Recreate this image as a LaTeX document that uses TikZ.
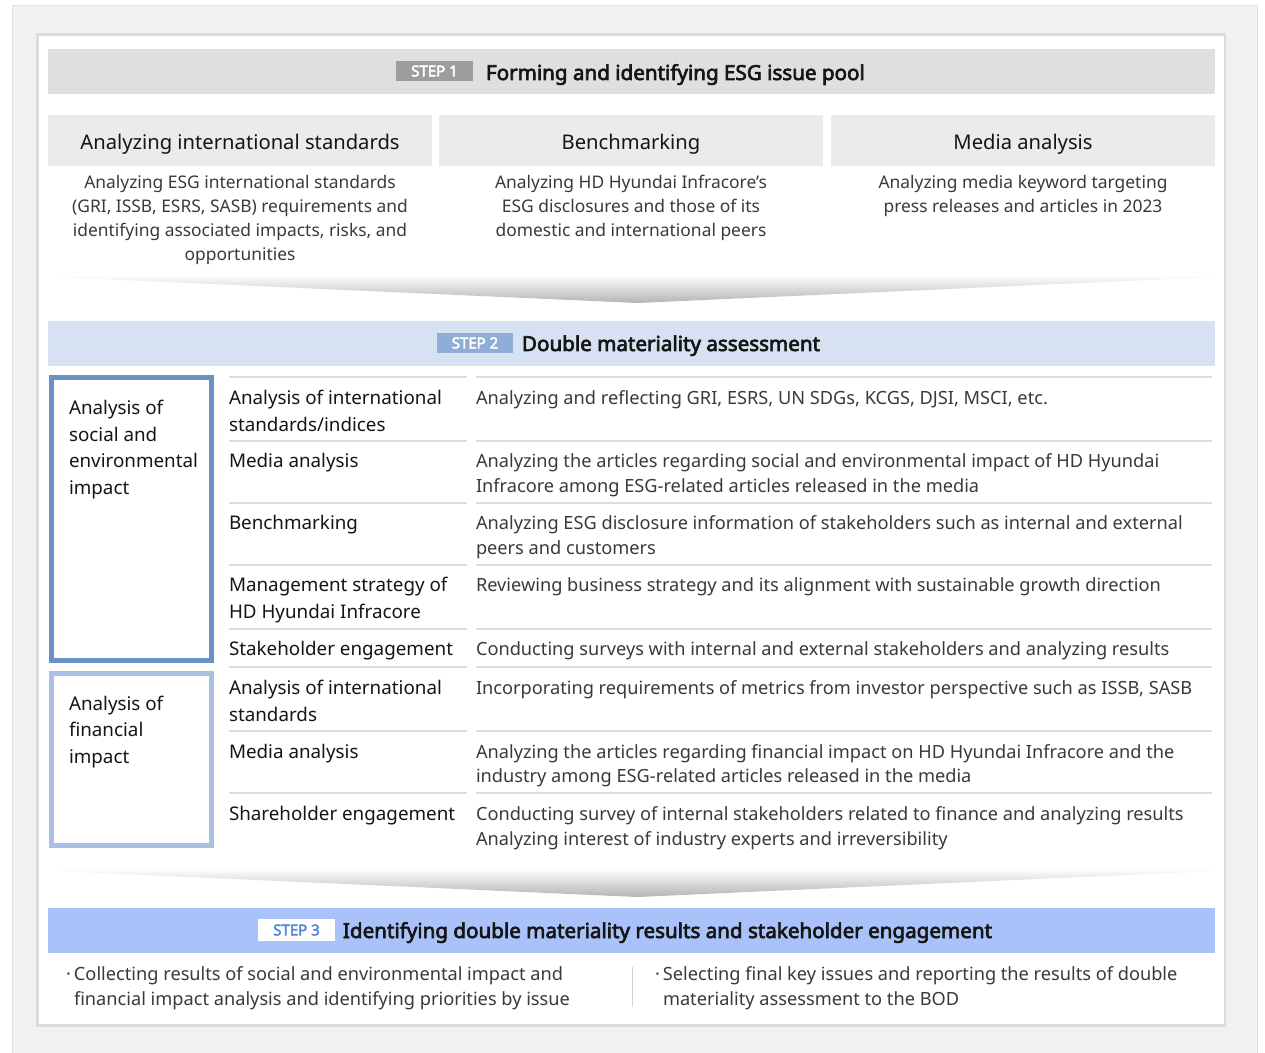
\documentclass[tikz,border=0pt]{standalone}
\usepackage{fontspec}
\setmainfont{Noto Sans}[AutoFakeBold=3.2]
\definecolor{outerbg}{HTML}{F0F2F1}
\definecolor{outerline}{HTML}{E0E2E1}
\definecolor{panelline}{HTML}{DADBDA}
\definecolor{bar1}{HTML}{DEDFDE}
\definecolor{badge1}{HTML}{9D9D9D}
\definecolor{colhead}{HTML}{EBEBEB}
\definecolor{bar2}{HTML}{D6E2F1}
\definecolor{badge2}{HTML}{8FADD7}
\definecolor{bar3}{HTML}{A9C3FA}
\definecolor{badge3txt}{HTML}{5A87D6}
\definecolor{boxA}{HTML}{6B91C9}
\definecolor{boxB}{HTML}{A9BFE4}
\definecolor{rulegray}{HTML}{DDDDDD}
\definecolor{sepgray}{HTML}{D2D2D2}
\definecolor{chevgray}{HTML}{B4B4B4}
\definecolor{txtdark}{HTML}{151515}
\definecolor{txtmid}{HTML}{3A3A3A}
\newcommand\lcell[1]{\begin{tabular}[t]{@{}l@{}}#1\end{tabular}}
\newcommand\ccell[1]{\begin{tabular}[t]{@{}c@{}}#1\end{tabular}}
\renewcommand{\arraystretch}{1}
\begin{document}
\begin{tikzpicture}[x=0.5pt,y=-0.5pt,
  every node/.style={inner sep=0pt, outer sep=0pt},
  steptitle/.style={anchor=base west, text=txtdark, font=\fontsize{10.3}{12}\bfseries\selectfont},
  badgetxt/.style={text=white, font=\fontsize{7.5}{8}\bfseries\selectfont},
  colheadtxt/.style={anchor=base, text=txtdark, font=\fontsize{10.1}{12}\selectfont},
  desctxt/.style={anchor=base, text=txtmid, font=\fontsize{8.7}{12}\selectfont},
  boxtxt/.style={anchor=base west, text=txtdark, font=\fontsize{9.4}{13.25}\selectfont},
  lbltxt/.style={anchor=base west, text=txtdark, font=\fontsize{9.4}{13.35}\selectfont},
  celltxt/.style={anchor=base west, text=txtmid, font=\fontsize{9.1}{12.5}\selectfont},
  bottomtxt/.style={anchor=base west, text=txtmid, font=\fontsize{9.1}{12.5}\selectfont},
  tabrule/.style={draw=rulegray, line width=1pt},
  chevron/.style={top color=white, bottom color=chevgray, draw=none}
]
\useasboundingbox (0,0) rectangle (1265,1053);
\fill[white] (0,0) rectangle (1265,1053);
% outer background
\fill[outerbg] (12.5,5.5) rectangle (1257.5,1053);
\draw[outerline, line width=0.5pt] (12.5,1053) -- (12.5,5.5) -- (1257.5,5.5) -- (1257.5,1053);
% white panel
\draw[panelline, line width=1.25pt, fill=white] (37.5,34.5) rectangle (1225,1025.5);

% ---------------- STEP 1 ----------------
\fill[bar1] (48,49) rectangle (1215,94);
\node[fill=badge1, minimum width=38.5pt, minimum height=10pt, badgetxt] (b1) at (434.5,71) {STEP 1};
\node[steptitle] (t1) at (486,80) {Forming and identifying ESG issue pool};

\fill[colhead] (48,115) rectangle (432,166);
\fill[colhead] (439,115) rectangle (823,166);
\fill[colhead] (831,115) rectangle (1215,166);
\node[colheadtxt] (h1) at (240,149.5) {Analyzing international standards};
\node[colheadtxt] (h2) at (631,149.5) {Benchmarking};
\node[colheadtxt] (h3) at (1023,149.5) {Media analysis};
\node[desctxt] (d1) at (240,189) {\ccell{Analyzing ESG international standards\\(GRI, ISSB, ESRS, SASB) requirements and\\identifying associated impacts, risks, and\\opportunities}};
\node[desctxt] (d2) at (631,189) {\ccell{Analyzing HD Hyundai Infracore’s\\ESG disclosures and those of its\\domestic and international peers}};
\node[desctxt] (d3) at (1023,189) {\ccell{Analyzing media keyword targeting\\press releases and articles in 2023}};

% chevron 1
\path[chevron] (55,275) -- (1215,275) -- (1215,277) -- (637,303) -- (55,277) -- cycle;

% ---------------- STEP 2 ----------------
\fill[bar2] (48,321) rectangle (1215,366);
\node[fill=badge2, minimum width=38pt, minimum height=10pt, badgetxt] (b2) at (475,343) {STEP 2};
\node[steptitle] (t2) at (522,351) {Double materiality assessment};

\draw[boxA, line width=2.5pt] (51.5,377.5) rectangle (211.5,661);
\draw[boxB, line width=2.5pt] (51.5,673.5) rectangle (211.5,845.5);
\node[boxtxt] (g1) at (69,415) {\lcell{Analysis of\\social and\\environmental\\impact}};
\node[boxtxt] (g2) at (69,710.5) {\lcell{Analysis of\\financial\\impact}};

\foreach \yy in {377,441,503,565,629,667,731,793}{
  \draw[tabrule] (229,\yy) -- (467,\yy);
  \draw[tabrule] (476,\yy) -- (1212,\yy);
}

\node[lbltxt] (l1) at (229,404.5) {\lcell{Analysis of international\\standards/indices}};
\node[lbltxt] (l2) at (229,468) {Media analysis};
\node[lbltxt] (l3) at (229,530) {Benchmarking};
\node[lbltxt] (l4) at (229,592) {\lcell{Management strategy of\\HD Hyundai Infracore}};
\node[lbltxt] (l5) at (229,656) {Stakeholder engagement};
\node[lbltxt] (l6) at (229,694.5) {\lcell{Analysis of international\\standards}};
\node[lbltxt] (l7) at (229,758) {Media analysis};
\node[lbltxt] (l8) at (229,820.5) {Shareholder engagement};

\node[celltxt] (c1) at (476,404.5) {Analyzing and reflecting GRI, ESRS, UN SDGs, KCGS, DJSI, MSCI, etc.};
\node[celltxt] (c2) at (476,468) {\lcell{Analyzing the articles regarding social and environmental impact of HD Hyundai\\Infracore among ESG-related articles released in the media}};
\node[celltxt] (c3) at (476,530) {\lcell{Analyzing ESG disclosure information of stakeholders such as internal and external\\peers and customers}};
\node[celltxt] (c4) at (476,592) {Reviewing business strategy and its alignment with sustainable growth direction};
\node[celltxt] (c5) at (476,656) {Conducting surveys with internal and external stakeholders and analyzing results};
\node[celltxt] (c6) at (476,694.5) {Incorporating requirements of metrics from investor perspective such as ISSB, SASB};
\node[celltxt] (c7) at (476,758) {\lcell{Analyzing the articles regarding financial impact on HD Hyundai Infracore and the\\industry among ESG-related articles released in the media}};
\node[celltxt] (c8) at (476,820.5) {\lcell{Conducting survey of internal stakeholders related to finance and analyzing results\\Analyzing interest of industry experts and irreversibility}};

% chevron 2
\path[chevron] (55,869) -- (1215,869) -- (1215,871) -- (637,897) -- (55,871) -- cycle;

% ---------------- STEP 3 ----------------
\fill[bar3] (48,908) rectangle (1215,953);
\node[fill=white, minimum width=38.5pt, minimum height=11pt, badgetxt, text=badge3txt] (b3) at (296.5,930) {STEP 3};
\node[steptitle] (t3) at (343,938) {Identifying double materiality results and stakeholder engagement};

\node[bottomtxt] (r1) at (74,980) {\lcell{\llap{·\,}Collecting results of social and environmental impact and\\financial impact analysis and identifying priorities by issue}};
\node[bottomtxt] (r2) at (663,980) {\lcell{\llap{·\,}Selecting final key issues and reporting the results of double\\materiality assessment to the BOD}};
\coordinate (s1) at (632,967);
\coordinate (s2) at (632,1007);
\draw[sepgray, line width=0.5pt] (s1) -- (s2);
\end{tikzpicture}
\end{document}
